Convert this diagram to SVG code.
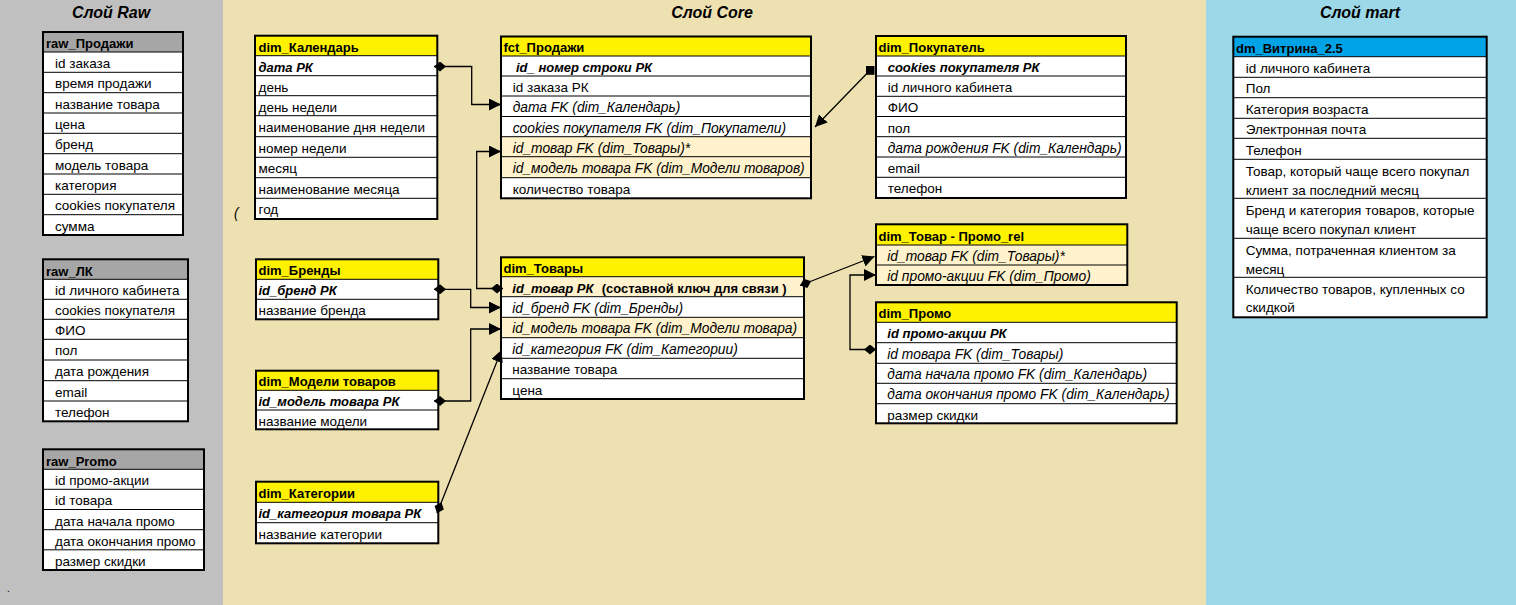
<svg xmlns="http://www.w3.org/2000/svg" width="1516" height="605" viewBox="0 0 1516 605">
<style>
.t{font-family:"Liberation Sans",Arial,sans-serif;font-size:13.5px;fill:#000}
.b{font-weight:bold;font-size:13px}
.i{font-style:italic;font-size:13.8px}
.b.i{font-size:13px}
.title{font-family:"Liberation Sans",Arial,sans-serif;font-size:16px;font-weight:bold;font-style:italic;text-anchor:middle;fill:#000}
.box{fill:none;stroke:#000;stroke-width:2}
.row{fill:#fff}
.or{fill:#FFF2CC}
.sep{fill:none;stroke:#000;stroke-width:1}
.yh{fill:#FFF200}
.gh{fill:#A6A6A6}
.bh{fill:#00A3E6}
.conn{fill:none;stroke:#000;stroke-width:1.3}
</style>
<defs>
<marker id="arr" viewBox="0 0 12 12" refX="12" refY="6" markerWidth="12" markerHeight="12" markerUnits="userSpaceOnUse" orient="auto"><path d="M0,0 L12,6 L0,12 z" fill="#000"/></marker>
<marker id="dia" viewBox="0 0 12 10" refX="0" refY="5" markerWidth="12" markerHeight="10" markerUnits="userSpaceOnUse" orient="auto"><path d="M0,5 L6,0 L12,5 L6,10 z" fill="#000"/></marker>
<marker id="sq" viewBox="0 0 9 9" refX="4.5" refY="4.5" markerWidth="9" markerHeight="9" markerUnits="userSpaceOnUse" orient="0"><rect width="9" height="9" fill="#000"/></marker>
</defs>

<g id="panels">
<rect x="0" y="0" width="223" height="605" fill="#C0C0C0"/>
<rect x="223" y="0" width="983" height="605" fill="#EEE1B1"/>
<rect x="1206" y="0" width="310" height="605" fill="#9DD8E9"/>
<text class="title" x="111" y="18">Слой Raw</text>
<text class="title" x="712" y="18">Слой Core</text>
<text class="title" x="1360" y="18">Слой mart</text>
<text class="t" x="7" y="592" style="font-size:10px">.</text>
<text class="t i" x="234" y="218" fill="#333">(</text>
</g>

<g id="raw_sales">
<rect class="gh" x="43" y="32" width="140" height="20"/>
<rect class="row" x="43" y="52" width="140" height="183"/>
<path class="sep" d="M43 52H183M43 72.3H183M43 92.7H183M43 113H183M43 133.3H183M43 153.7H183M43 174H183M43 194.3H183M43 214.7H183"/>
<rect class="box" x="43" y="32" width="140" height="203"/>
<text class="t b" x="46" y="48">raw_Продажи</text>
<text class="t" x="55" y="68">id заказа</text>
<text class="t" x="55" y="88.3">время продажи</text>
<text class="t" x="55" y="108.7">название товара</text>
<text class="t" x="55" y="129">цена</text>
<text class="t" x="55" y="149.3">бренд</text>
<text class="t" x="55" y="169.7">модель товара</text>
<text class="t" x="55" y="190">категория</text>
<text class="t" x="55" y="210.3">cookies покупателя</text>
<text class="t" x="55" y="230.7">сумма</text>
</g>

<g id="raw_lk">
<rect class="gh" x="43" y="259.3" width="145" height="20"/>
<rect class="row" x="43" y="279.3" width="145" height="142"/>
<path class="sep" d="M43 279.3H188M43 299.3H188M43 319.3H188M43 339.3H188M43 360H188M43 380.7H188M43 401H188"/>
<rect class="box" x="43" y="259.3" width="145" height="162"/>
<text class="t b" x="46" y="275.5">raw_ЛК</text>
<text class="t" x="55" y="295.3">id личного кабинета</text>
<text class="t" x="55" y="315.3">cookies покупателя</text>
<text class="t" x="55" y="335.3">ФИО</text>
<text class="t" x="55" y="355.3">пол</text>
<text class="t" x="55" y="376">дата рождения</text>
<text class="t" x="55" y="396.7">email</text>
<text class="t" x="55" y="417">телефон</text>
</g>

<g id="raw_promo">
<rect class="gh" x="43" y="449.3" width="161" height="20"/>
<rect class="row" x="43" y="469.3" width="161" height="100.7"/>
<path class="sep" d="M43 469.3H204M43 489.3H204M43 509.5H204M43 529.7H204M43 549.8H204"/>
<rect class="box" x="43" y="449.3" width="161" height="120.7"/>
<text class="t b" x="46" y="465.5">raw_Promo</text>
<text class="t" x="55" y="485.3">id промо-акции</text>
<text class="t" x="55" y="505.3">id товара</text>
<text class="t" x="55" y="525.5">дата начала промо</text>
<text class="t" x="55" y="545.7">дата окончания промо</text>
<text class="t" x="55" y="565.8">размер скидки</text>
</g>

<g id="dim_calendar">
<rect class="yh" x="255" y="35.7" width="182.3" height="20"/>
<rect class="row" x="255" y="55.7" width="182.3" height="163.3"/>
<path class="sep" d="M255 55.7H437.3M255 75.7H437.3M255 95.7H437.3M255 115.7H437.3M255 136.7H437.3M255 157.3H437.3M255 177.7H437.3M255 198.3H437.3"/>
<rect class="box" x="255" y="35.7" width="182.3" height="183.3"/>
<text class="t b" x="258.5" y="51.5">dim_Календарь</text>
<text class="t b i" x="258.5" y="71.7">дата РК</text>
<text class="t" x="258.5" y="91.7">день</text>
<text class="t" x="258.5" y="111.7">день недели</text>
<text class="t" x="258.5" y="131.7">наименование дня недели</text>
<text class="t" x="258.5" y="152.7">номер недели</text>
<text class="t" x="258.5" y="173.3">месяц</text>
<text class="t" x="258.5" y="193.7">наименование месяца</text>
<text class="t" x="258.5" y="214.3">год</text>
</g>

<g id="fct_sales">
<rect class="yh" x="501" y="36.5" width="310" height="19.5"/>
<rect class="row" x="501" y="56" width="310" height="142.3"/>
<rect class="or" x="501" y="136.7" width="310" height="41"/>
<path class="sep" d="M501 56H811M501 76H811M501 96H811M501 116.5H811M501 136.7H811M501 156.7H811M501 177.7H811"/>
<rect class="box" x="501" y="36.5" width="310" height="161.8"/>
<text class="t b" x="503.5" y="52">fct_Продажи</text>
<text class="t b i" x="516" y="72">id_ номер строки РК</text>
<text class="t" x="512.7" y="92">id заказа РК</text>
<text class="t i" x="512.7" y="112">дата FK (dim_Календарь)</text>
<text class="t i" x="512.7" y="132.5">cookies покупателя FK (dim_Покупатели)</text>
<text class="t i" x="512.7" y="152.7">id_товар FK (dim_Товары)*</text>
<text class="t i" x="512.7" y="172.7">id_модель товара FK (dim_Модели товаров)</text>
<text class="t" x="512.7" y="193.7">количество товара</text>
</g>

<g id="dim_customer">
<rect class="yh" x="876" y="36" width="250" height="20"/>
<rect class="row" x="876" y="56" width="250" height="142"/>
<path class="sep" d="M876 56H1126M876 76H1126M876 96.3H1126M876 116.5H1126M876 136.7H1126M876 157H1126M876 177.3H1126"/>
<rect class="box" x="876" y="36" width="250" height="162"/>
<text class="t b" x="878.5" y="51.8">dim_Покупатель</text>
<text class="t b i" x="887.7" y="72">cookies покупателя РК</text>
<text class="t" x="887.7" y="92">id личного кабинета</text>
<text class="t" x="887.7" y="112.3">ФИО</text>
<text class="t" x="887.7" y="132.5">пол</text>
<text class="t i" x="887.7" y="152.7">дата рождения FK (dim_Календарь)</text>
<text class="t" x="887.7" y="173">email</text>
<text class="t" x="887.7" y="193.3">телефон</text>
</g>

<g id="dm_vitrina">
<rect class="bh" x="1233.3" y="36.7" width="253.4" height="20"/>
<rect class="row" x="1233.3" y="56.7" width="253.4" height="260.6"/>
<path class="sep" d="M1233.3 56.7H1486.7M1233.3 77.3H1486.7M1233.3 97.7H1486.7M1233.3 118.3H1486.7M1233.3 138.3H1486.7M1233.3 159.3H1486.7M1233.3 198.3H1486.7M1233.3 238.3H1486.7M1233.3 277.3H1486.7"/>
<rect class="box" x="1233.3" y="36.7" width="253.4" height="280.6"/>
<text class="t b" x="1236" y="52.5">dm_Витрина_2.5</text>
<text class="t" x="1245.7" y="72.5">id личного кабинета</text>
<text class="t" x="1245.7" y="93">Пол</text>
<text class="t" x="1245.7" y="113.5">Категория возраста</text>
<text class="t" x="1245.7" y="134">Электронная почта</text>
<text class="t" x="1245.7" y="154.5">Телефон</text>
<text class="t" x="1245.7" y="176">Товар, который чаще всего покупал</text>
<text class="t" x="1245.7" y="194.5">клиент за последний месяц</text>
<text class="t" x="1245.7" y="215">Бренд и категория товаров, которые</text>
<text class="t" x="1245.7" y="234">чаще всего покупал клиент</text>
<text class="t" x="1245.7" y="255">Сумма, потраченная клиентом за</text>
<text class="t" x="1245.7" y="273.5">месяц</text>
<text class="t" x="1245.7" y="293.5">Количество товаров, купленных со</text>
<text class="t" x="1245.7" y="312">скидкой</text>
</g>

<g id="dim_brands">
<rect class="yh" x="256" y="259.3" width="182.3" height="20"/>
<rect class="row" x="256" y="279.3" width="182.3" height="40"/>
<path class="sep" d="M256 279.3H438.3M256 299.3H438.3"/>
<rect class="box" x="256" y="259.3" width="182.3" height="60"/>
<text class="t b" x="258.5" y="275.3">dim_Бренды</text>
<text class="t b i" x="258.5" y="295.3">id_бренд РК</text>
<text class="t" x="258.5" y="315.3">название бренда</text>
</g>

<g id="dim_models">
<rect class="yh" x="256" y="370.7" width="182.3" height="19.6"/>
<rect class="row" x="256" y="390.3" width="182.3" height="39"/>
<path class="sep" d="M256 390.3H438.3M256 410H438.3"/>
<rect class="box" x="256" y="370.7" width="182.3" height="58.6"/>
<text class="t b" x="258.5" y="386.3">dim_Модели товаров</text>
<text class="t b i" x="258.5" y="406">id_модель товара РК</text>
<text class="t" x="258.5" y="425.7">название модели</text>
</g>

<g id="dim_categories">
<rect class="yh" x="256" y="481.7" width="182.3" height="20.6"/>
<rect class="row" x="256" y="502.3" width="182.3" height="41"/>
<path class="sep" d="M256 502.3H438.3M256 522.7H438.3"/>
<rect class="box" x="256" y="481.7" width="182.3" height="61.6"/>
<text class="t b" x="258.5" y="497.7">dim_Категории</text>
<text class="t b i" x="258.5" y="518.3">id_категория товара РК</text>
<text class="t" x="258.5" y="538.7">название категории</text>
</g>

<g id="dim_goods">
<rect class="yh" x="501" y="257.3" width="303" height="19.4"/>
<rect class="row" x="501" y="276.7" width="303" height="122.3"/>
<rect class="or" x="501" y="276.7" width="303" height="20"/>
<rect class="or" x="501" y="317.3" width="303" height="20.4"/>
<path class="sep" d="M501 276.7H804M501 296.7H804M501 317.3H804M501 337.7H804M501 358.3H804M501 378.7H804"/>
<rect class="box" x="501" y="257.3" width="303" height="141.7"/>
<text class="t b" x="503.5" y="272.8">dim_Товары</text>
<text class="t b i" x="512.3" y="292.7">id_товар РК</text>
<text class="t b" x="601.7" y="292.7">(составной ключ для связи )</text>
<text class="t i" x="512.3" y="312.7">id_бренд FK (dim_Бренды)</text>
<text class="t i" x="512.3" y="333.3">id_модель товара FK (dim_Модели товара)</text>
<text class="t i" x="512.3" y="353.7">id_категория FK (dim_Категории)</text>
<text class="t" x="512.3" y="374.3">название товара</text>
<text class="t" x="512.3" y="394.7">цена</text>
</g>

<g id="dim_goods_promo_rel">
<rect class="yh" x="876" y="224.3" width="251.3" height="20.7"/>
<rect class="or" x="876" y="245" width="251.3" height="40"/>
<path class="sep" d="M876 245H1127.3M876 265H1127.3"/>
<rect class="box" x="876" y="224.3" width="251.3" height="60.7"/>
<text class="t b" x="878.5" y="240.5">dim_Товар - Промо_rel</text>
<text class="t i" x="887.3" y="261">id_товар FK (dim_Товары)*</text>
<text class="t i" x="887.3" y="281">id промо-акции FK (dim_Промо)</text>
</g>

<g id="dim_promo">
<rect class="yh" x="876" y="302.3" width="300.7" height="20"/>
<rect class="row" x="876" y="322.3" width="300.7" height="101"/>
<path class="sep" d="M876 322.3H1176.7M876 342.7H1176.7M876 363.3H1176.7M876 383.3H1176.7M876 403.7H1176.7"/>
<rect class="box" x="876" y="302.3" width="300.7" height="121"/>
<text class="t b" x="878.5" y="318.3">dim_Промо</text>
<text class="t b i" x="887.3" y="338.3">id промо-акции РК</text>
<text class="t i" x="887.3" y="358.7">id товара FK (dim_Товары)</text>
<text class="t i" x="887.3" y="379.3">дата начала промо FK (dim_Календарь)</text>
<text class="t i" x="887.3" y="399.3">дата окончания промо FK (dim_Календарь)</text>
<text class="t" x="887.3" y="419.7">размер скидки</text>
</g>

<g id="connectors">
<path class="conn" d="M434 66.5H471.7V104.5H501" marker-start="url(#dia)" marker-end="url(#arr)"/>
<path class="conn" d="M503 288.5H476.7V151.5H501" marker-start="url(#dia)" marker-end="url(#arr)"/>
<path class="conn" d="M434 289.3H470.7V307.5H501" marker-start="url(#dia)" marker-end="url(#arr)"/>
<path class="conn" d="M434 401H470.7V329H501" marker-start="url(#dia)" marker-end="url(#arr)"/>
<path class="conn" d="M437 513.3L501.5 350" marker-start="url(#dia)" marker-end="url(#arr)"/>
<path class="conn" d="M800 285.5L874.5 256.5" marker-start="url(#dia)" marker-end="url(#arr)"/>
<path class="conn" d="M876 349.5H850V275H876" marker-start="url(#dia)" marker-end="url(#arr)"/>
<path class="conn" d="M870 70.3L815 127" marker-start="url(#sq)" marker-end="url(#arr)"/>
</g>
</svg>
